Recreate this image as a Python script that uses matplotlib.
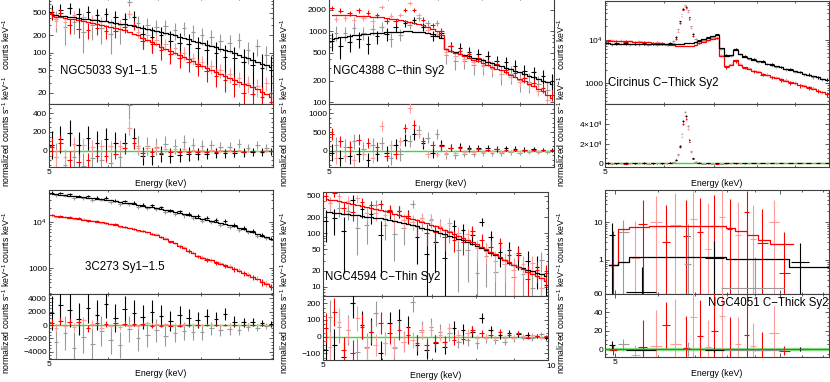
import numpy as np
import matplotlib
matplotlib.use("Agg")
import matplotlib.pyplot as plt
from matplotlib.ticker import FixedLocator, NullFormatter, LogLocator, AutoMinorLocator

plt.rcParams['font.family'] = ['Liberation Sans', 'DejaVu Sans']
plt.rcParams['mathtext.fontset'] = 'custom'
plt.rcParams['mathtext.rm'] = 'Liberation Sans'
plt.rcParams['mathtext.it'] = 'Liberation Sans:italic'

# ---------------- data ----------------
energy_keV = [5.04, 5.11, 5.18, 5.25, 5.33, 5.40, 5.48, 5.56, 5.64, 5.72,
              5.80, 5.88, 5.97, 6.05, 6.14, 6.23, 6.32, 6.41, 6.50, 6.59,
              6.68, 6.78, 6.88, 6.97, 7.07, 7.17, 7.28, 7.38, 7.49, 7.59,
              7.70, 7.81, 7.92, 8.03, 8.15, 8.26, 8.38, 8.50, 8.62, 8.75,
              8.87, 9.00, 9.13, 9.26, 9.39, 9.53, 9.66, 9.80, 9.94]

# NGC5033
n5033_blk_model = [455, 447, 438, 430, 421, 412, 403, 393, 383, 375,
                   368, 361, 354, 346, 335, 323, 311, 300, 289, 278,
                   268, 257, 247, 238, 229, 220, 210, 200, 190, 181,
                   172, 163, 154, 146, 139, 132, 125, 118, 112, 106,
                   99, 92, 86, 80, 75, 70, 65, 60, 56]
n5033_blk_resid = [65, -67, 122, -150, 189, -62, 67, -160, 137, -75,
                   82, -91, 126, -130, 85, -63, 79, 480, 131, 52,
                   -58, 53, -57, 42, -29, 70, -50, 50, -40, 89,
                   -32, 67, -34, 54, -29, 58, -25, 42, -27, 44,
                   -19, 78, -16, 30, -15, 60, -10, 30, -6]
n5033_blk_err = [150, 150, 145, 145, 140, 140, 135, 135, 130, 130,
                 125, 125, 120, 120, 115, 115, 110, 140, 110, 100,
                 95, 95, 90, 90, 85, 85, 80, 80, 75, 75,
                 70, 70, 65, 65, 60, 60, 55, 55, 50, 50,
                 48, 48, 45, 45, 42, 42, 40, 40, 38]
n5033_red_model = [435, 425, 414, 403, 391, 382, 372, 360, 347, 334,
                   321, 308, 295, 283, 270, 257, 246, 234, 216, 200,
                   184, 169, 154, 140, 128, 118, 109, 100, 92, 85,
                   78, 71, 65, 59, 55, 51, 47, 43, 40, 37,
                   34, 31, 29, 27, 25, 23, 21, 19, 17]
n5033_red_resid = [45, -65, 86, -63, -91, 68, -112, 60, -97, 46,
                   -51, 52, -55, 47, -30, 53, 34, 246, 84, 30,
                   -24, 31, -14, 30, -18, 22, -14, 20, -12, 15,
                   -10, 9, -7, 11, -7, 7, -7, 7, -6, 5,
                   -6, 5, -9, 3, -6, 3, -4, 11, -3]
n5033_red_err = [90, 90, 85, 85, 85, 80, 80, 75, 75, 70,
                 70, 65, 65, 60, 60, 58, 56, 80, 54, 50,
                 46, 44, 40, 38, 35, 33, 30, 28, 26, 24,
                 22, 20, 19, 18, 17, 16, 15, 14, 13, 12,
                 11, 11, 10, 10, 9, 9, 8, 8, 8]

# NGC4388
n4388_blk_model = [790, 805, 820, 840, 860, 875, 890, 905, 920, 935,
                   945, 955, 965, 975, 985, 990, 995, 995, 990, 980,
                   965, 945, 915, 870, 800, 560, 530, 505, 485, 465,
                   445, 425, 405, 390, 372, 355, 338, 322, 306, 291,
                   276, 262, 248, 235, 223, 211, 200, 190, 180]
n4388_blk_resid = [-50, 150, -200, 100, -150, 250, -100, 50, -250, 150,
                   -100, 200, -50, -200, 150, -100, 300, 250, 450, 550,
                   200, 350, -50, 450, 150, -100, 80, -120, 100, -80,
                   60, -90, 70, -60, 80, -50, 40, -70, 60, -40,
                   50, -60, 30, -40, 40, -30, 30, -40, 20]
n4388_blk_err = [220, 220, 210, 210, 200, 200, 200, 190, 190, 190,
                 180, 180, 180, 170, 170, 170, 160, 160, 160, 150,
                 150, 150, 140, 140, 140, 110, 100, 100, 95, 95,
                 90, 90, 85, 85, 80, 80, 75, 75, 70, 70,
                 65, 65, 60, 60, 55, 55, 50, 50, 50]
n4388_red_model = [1700, 1700, 1700, 1695, 1690, 1680, 1670, 1650, 1630, 1610,
                   1590, 1565, 1540, 1510, 1480, 1445, 1410, 1370, 1320, 1270,
                   1210, 1150, 1080, 1000, 900, 570, 530, 500, 470, 445,
                   420, 395, 375, 355, 335, 315, 297, 280, 262, 245,
                   228, 212, 197, 182, 168, 155, 142, 128, 115]
n4388_red_resid = [450, -200, 250, -150, 100, -250, 300, -100, 200, -200,
                   100, 650, -150, 150, -100, 250, 600, 1150, 700, 450,
                   250, -100, 150, -80, 120, -60, 80, -50, 60, -40,
                   50, -30, 40, -30, 30, -20, 50, -30, 20, -20,
                   30, -20, 20, -10, 20, -10, 15, -20, 10]
n4388_red_err = [160, 160, 155, 155, 150, 150, 145, 145, 140, 140,
                 135, 135, 130, 130, 125, 125, 120, 140, 120, 115,
                 110, 105, 100, 95, 90, 70, 65, 60, 58, 55,
                 52, 50, 48, 46, 44, 42, 40, 38, 36, 34,
                 32, 30, 28, 26, 25, 24, 23, 22, 21]

# Circinus (finer bins around the Fe K-alpha line)
circ_energy = [5.04, 5.11, 5.18, 5.25, 5.33, 5.40, 5.48, 5.56, 5.64, 5.72,
               5.80, 5.88, 5.97, 6.05, 6.12, 6.18, 6.23, 6.27, 6.31, 6.34,
               6.37, 6.40, 6.43, 6.46, 6.49, 6.53, 6.57, 6.62, 6.68, 6.78,
               6.88, 6.97, 7.07, 7.17, 7.28, 7.38, 7.49, 7.59, 7.70, 7.81,
               7.92, 8.03, 8.15, 8.26, 8.38, 8.50, 8.62, 8.75, 8.87, 9.00,
               9.13, 9.26, 9.39, 9.53, 9.66, 9.80, 9.94]
circ_blk_model = [8200, 8100, 8150, 8050, 8000, 8000, 7950, 7900, 7900, 7850,
                  7800, 7800, 7800, 7850, 7900, 7950, 8000, 8050, 8100, 8120,
                  8150, 8200, 8230, 8260, 8300, 8400, 8500, 8800, 9200, 10200,
                  11000, 12000, 12800, 6500, 4300, 4500, 5800, 4800, 4100, 3800,
                  3500, 3250, 3050, 2850, 2650, 2480, 2320, 2170, 2030, 1900,
                  1780, 1660, 1560, 1460, 1370, 1280, 1200]
circ_blk_resid = [200, -300, 150, -100, 250, -200, 100, -150, 300, -250,
                  100, -100, 200, -200, 400, 1200, 3500, 9000, 18000, 30000,
                  43000, 52000, 48000, 38000, 24000, 12000, 5000, 1500, 400, -300,
                  200, -400, 300, -300, 200, -200, 300, -200, 150, -150,
                  100, -120, 150, -100, 80, -100, 60, -80, 100, -60,
                  50, -50, 40, -60, 30, -40, 20]
circ_blk_err = [600, 600, 580, 580, 560, 560, 540, 540, 520, 520,
                500, 500, 480, 480, 480, 500, 520, 560, 620, 700,
                780, 820, 800, 740, 660, 560, 480, 440, 420, 400,
                400, 420, 440, 330, 250, 260, 290, 250, 220, 210,
                200, 190, 180, 175, 170, 160, 155, 150, 145, 140,
                135, 130, 125, 120, 115, 110, 105]
circ_red_model = [9600, 9500, 9400, 9300, 9200, 9100, 9000, 8900, 8800, 8700,
                  8550, 8400, 8200, 7900, 7650, 7450, 7300, 7200, 7120, 7060,
                  7020, 7000, 7010, 7040, 7080, 7150, 7300, 7700, 8200, 9000,
                  9800, 10500, 11000, 4200, 2500, 2700, 3400, 2700, 2350, 2150,
                  1950, 1800, 1660, 1540, 1430, 1330, 1240, 1150, 1070, 1000,
                  930, 870, 810, 750, 690, 630, 570]
circ_red_resid = [-200, 300, -150, 200, -250, 150, -100, 250, -200, 100,
                  -150, 200, -100, 150, 300, 1000, 3000, 8000, 16500, 27000,
                  40000, 48500, 45000, 35000, 22000, 11000, 4500, 1200, 300, 250,
                  -200, 300, -250, 150, -150, 100, -200, 120, -100, 80,
                  -60, 100, -80, 60, -50, 70, -40, 50, -30, 40,
                  -30, 30, -20, 25, -20, 15, -10]
circ_red_err = [650, 640, 630, 620, 610, 600, 590, 580, 570, 560,
                550, 540, 530, 520, 500, 500, 520, 560, 620, 700,
                760, 800, 780, 720, 640, 540, 460, 420, 400, 400,
                420, 440, 460, 260, 170, 180, 210, 180, 160, 150,
                140, 135, 130, 125, 120, 115, 110, 105, 100, 95,
                92, 88, 85, 82, 78, 74, 70]

# 3C273
c273_blk_model = [40200, 39300, 38400, 37500, 36500, 35600, 34700, 33800, 32900, 32100,
                  31200, 30400, 29500, 28600, 27500, 26600, 25600, 24700, 23800, 23000,
                  22100, 21200, 20400, 19600, 18800, 17800, 16900, 16100, 15200, 14500,
                  13700, 13000, 12300, 11600, 11000, 10500, 9900, 9400, 8900, 8400,
                  7900, 7450, 6900, 6400, 5900, 5400, 5000, 4600, 4200]
c273_blk_resid = [1800, -2500, 3000, -1200, 2200, -3500, 900, -1800, 2600, -2800,
                  1500, -900, 3200, -2200, 1000, -3000, 2400, -600, 1800, -2000,
                  1200, -1500, 2000, -800, 1400, -1700, 600, -1200, 1500, -900,
                  1100, -1000, 800, -1100, 1300, -500, 900, -700, 1600, -600,
                  500, -800, 400, -300, 500, -400, 300, -200, 150]
c273_blk_err = [2600, 2600, 2500, 2500, 2500, 2400, 2400, 2400, 2300, 2300,
                2300, 2200, 2200, 2100, 2100, 2000, 2000, 2000, 1900, 1900,
                1800, 1800, 1700, 1700, 1600, 1500, 1500, 1400, 1400, 1300,
                1300, 1200, 1200, 1100, 1100, 1000, 1000, 900, 900, 850,
                800, 750, 700, 650, 600, 550, 500, 450, 400]
c273_red_model = [13700, 13300, 12900, 12600, 12100, 11800, 11400, 11000, 10700, 10400,
                  10000, 9700, 9300, 8950, 8500, 8070, 7670, 7280, 6920, 6560,
                  6240, 5890, 5560, 5270, 4800, 4300, 3810, 3410, 3030, 2710,
                  2400, 2130, 1870, 1700, 1570, 1470, 1350, 1250, 1160, 1070,
                  985, 890, 800, 720, 650, 580, 515, 465, 415]
c273_red_resid = [300, -400, 600, -200, 500, -300, 400, 700, -500, 200,
                  300, -400, 150, -200, 300, -300, 200, -100, 150, -200,
                  100, 250, -150, 100, -100, 80, -120, 60, -80, 100,
                  -60, 50, -70, 40, -50, 60, -30, 40, -40, 30,
                  -30, 20, -20, 25, -15, 20, -15, 10, -10]
c273_red_err = [600, 600, 580, 560, 550, 540, 520, 500, 490, 480,
                460, 450, 440, 420, 400, 390, 380, 360, 350, 340,
                320, 300, 290, 280, 260, 250, 240, 220, 210, 200,
                190, 180, 170, 160, 150, 140, 130, 125, 120, 110,
                105, 100, 95, 90, 85, 80, 75, 70, 65]

# NGC4594
n4594_blk_model = [247, 243, 238, 233, 228, 223, 218, 214, 209, 204,
                   200, 195, 191, 184, 176, 168, 161, 154, 147, 140,
                   134, 127, 121, 116, 109, 102, 95, 89, 83, 78,
                   73, 68, 63, 58, 53, 48, 43, 39, 35, 31,
                   28, 25, 23.5, 22.1, 20.7, 19.4, 18.2, 17.0, 15.9]
n4594_blk_resid = [-80, 120, -50, 60, -120, 40, 200, -90, 70, -60,
                   30, 140, -100, -40, 80, -70, 100, -30, 60, 210,
                   -50, 40, -80, 60, -40, 30, -60, 20, 50, -30,
                   40, -20, 30, -40, 110, -10, 40, -20, 10, -30,
                   20, -10, 15, -5, 10, -10, 5, 15, -5]
n4594_blk_err = [100, 100, 95, 95, 90, 90, 90, 85, 85, 80,
                 80, 75, 75, 70, 70, 68, 66, 64, 62, 60,
                 58, 56, 54, 52, 50, 48, 46, 44, 42, 40,
                 38, 36, 34, 32, 30, 28, 26, 24, 22, 21,
                 20, 19, 18, 17, 16, 15, 14, 13, 12]
n4594_red_model = [437, 422, 407, 394, 378, 365, 350, 336, 323, 310,
                   298, 286, 274, 261, 247, 232, 219, 207, 195, 184,
                   173, 163, 152, 144, 133, 123, 113, 105, 96, 89,
                   82, 75, 69, 63, 56, 51, 45, 40, 36, 32,
                   29, 25.4, 23.1, 21.1, 19.2, 17.3, 15.8, 14.3, 12.9]
n4594_red_resid = [50, -60, 150, 90, -80, 40, -100, 110, 60, -70,
                   30, -50, 80, -40, 20, -60, 40, -30, 10, -20,
                   -40, 30, -50, 40, -30, 10, -30, 50, -20, 10,
                   -15, 20, 40, -10, 20, -5, 10, -10, 30, -5,
                   10, -5, 20, 5, -5, 10, 5, -5, 5]
n4594_red_err = [90, 90, 85, 85, 80, 80, 78, 76, 74, 72,
                 70, 68, 66, 64, 62, 60, 58, 55, 52, 50,
                 48, 46, 44, 42, 40, 38, 36, 34, 32, 30,
                 28, 26, 24, 22, 20, 19, 18, 17, 16, 15,
                 14, 13, 12, 11, 10, 10, 9, 9, 8]

# NGC4051 (sparse bins)
n4051_red_e = [4.97, 5.45, 5.62, 5.95, 6.20, 6.45, 6.75, 6.95, 7.15, 7.40,
               7.60, 7.85, 8.10, 8.40, 8.70, 8.95, 9.30, 9.75, 10.20]
n4051_red_hw = [0.08, 0.10, 0.10, 0.15, 0.10, 0.15, 0.10, 0.10, 0.10, 0.10,
                0.10, 0.10, 0.10, 0.10, 0.10, 0.12, 0.20, 0.20, 0.25]
n4051_red_val = [0.75, 1.1, 9.0, 10.4, 3.0, 8.5, 4.4, 12, 5.5, 2.0,
                 8.0, 14, 6.5, 4.5, 19, 3.5, 2.9, 10, 0.45]
n4051_red_err = [5, 10, 30, 40, 25, 50, 35, 55, 40, 30,
                 45, 60, 35, 30, 50, 25, 20, 30, 5]
n4051_red_res = [-1, -6, 2, 3, 26, 5, 1, 35, 14, 2,
                 20, 36, 0, 5, 15, 3, -1, 17, -2]
n4051_blk_e = [4.95, 5.18, 5.60, 6.80, 7.60, 9.00, 10.90]
n4051_blk_hw = [0.06, 0.12, 0.35, 0.10, 0.30, 1.20, 0.40]
n4051_blk_val = [4.6, 5.6, 0.14, 0.8, 1.1, 0.18, 0.9]
n4051_blk_err = [5, 6, 0.5, 8, 2, 1, 2]
n4051_blk_res = [4, 5, -1, 0, -1, -1, 0]
n4051_red_model_edges = [4.89, 5.06, 5.30, 5.77, 7.99, 8.29, 8.73, 9.14, 9.58, 10.56]
n4051_red_model_vals = [0.75, 6.5, 7.4, 8.1, 7.2, 6.0, 4.5, 3.4, 2.6]
n4051_blk_model_edges = [4.89, 5.06, 5.30, 7.99, 10.39, 12.3]
n4051_blk_model_vals = [0.74, 0.87, 1.22, 1.06, 0.66]

panel_names = ["NGC5033 Sy1\u22121.5", "NGC4388 C\u2212thin Sy2", "Circinus C\u2212Thick Sy2",
               "3C273 Sy1\u22121.5", "NGC4594 C\u2212Thin Sy2", "NGC4051 C\u2212Thick Sy2"]

# ---------------- figure ----------------
W, H = 830, 382
fig = plt.figure(figsize=(W / 100, H / 100), dpi=100)
fig.patch.set_facecolor('white')

BLK, BLK_L = '#000000', '#9a9a9a'
RED, RED_L = '#ff0000', '#ff9a9a'
GREEN = '#33dd33'
FRAME = '#404040'


def rect(x0, x1, y0, y1):
    return [x0 / W, 1 - y1 / H, (x1 - x0) / W, (y1 - y0) / H]


def make_pair(x0, x1, ytop, ysep, ybot):
    at = fig.add_axes(rect(x0, x1, ytop, ysep))
    ar = fig.add_axes(rect(x0, x1, ysep, ybot))
    return at, ar


def style(ax, xlim, xmaj, xlab, xmin, show_xlabels):
    ax.set_xscale('log')
    ax.set_xlim(*xlim)
    ax.xaxis.set_major_locator(FixedLocator(xmaj))
    ax.set_xticklabels(xlab if show_xlabels else [''] * len(xmaj))
    ax.xaxis.set_minor_locator(FixedLocator(xmin))
    ax.xaxis.set_minor_formatter(NullFormatter())
    ax.tick_params(which='both', direction='in', top=True, right=True,
                   labelsize=6, pad=1.5, color=FRAME, width=0.6)
    ax.tick_params(which='major', length=3)
    ax.tick_params(which='minor', length=1.6)
    for s in ax.spines.values():
        s.set_color(FRAME)
        s.set_linewidth(0.8)


def half_widths(e):
    e = np.asarray(e, float)
    le = np.log(e)
    d = np.diff(le) / 2
    left = np.concatenate([[d[0]], d])
    right = np.concatenate([d, [d[-1]]])
    return e - np.exp(le - left), np.exp(le + right) - e


def draw_series(at, ar, e, model, resid, err, dark, light, z):
    e = np.asarray(e, float)
    model = np.asarray(model, float)
    resid = np.asarray(resid, float)
    err = np.asarray(err, float)
    data = model + resid
    xlo, xhi = half_widths(e)
    for sel, col in ((slice(1, None, 2), light), (slice(0, None, 2), dark)):
        at.errorbar(e[sel], data[sel], yerr=err[sel], xerr=[xlo[sel], xhi[sel]],
                    fmt='none', ecolor=col, elinewidth=0.8, capsize=0, zorder=z)
        ar.errorbar(e[sel], resid[sel], yerr=err[sel], xerr=[xlo[sel], xhi[sel]],
                    fmt='none', ecolor=col, elinewidth=0.8, capsize=0, zorder=z)
    at.plot(e, model, drawstyle='steps-mid', color=dark, lw=0.9, zorder=z + 2)


def finish(at, ar, xlim, xmaj, xlab, xmin, ylim_t, yt, ytl, ylim_r, yr, yrl):
    style(at, xlim, xmaj, xlab, xmin, False)
    style(ar, xlim, xmaj, xlab, xmin, True)
    at.set_yscale('log')
    at.set_ylim(*ylim_t)
    at.set_yticks(yt, ytl)
    at.yaxis.set_minor_locator(LogLocator(base=10, subs=np.arange(1, 10) * 1.0, numticks=60))
    at.yaxis.set_minor_formatter(NullFormatter())
    ar.set_ylim(*ylim_r)
    ar.set_yticks(yr, yrl)
    ar.yaxis.set_minor_locator(AutoMinorLocator(4))
    ar.axhline(0, color=GREEN, lw=1.0, zorder=1)


X510 = (5, 10)
XMAJ = [5, 10]
XMIN = [6, 7, 8, 9]

# Panel 1: NGC5033
at, ar = make_pair(49, 273, -2, 104, 167)
draw_series(at, ar, energy_keV, n5033_blk_model, n5033_blk_resid, n5033_blk_err, BLK, BLK_L, 3)
draw_series(at, ar, energy_keV, n5033_red_model, n5033_red_resid, n5033_red_err, RED, RED_L, 4)
finish(at, ar, X510, XMAJ, ['5', ''], XMIN, (12.8, 900), [20, 50, 100, 200, 500],
       ['20', '50', '100', '200', '500'], (-170, 495), [0, 200, 400], ['0', '200', '400'])

# Panel 2: NGC4388
at, ar = make_pair(329, 554, -2, 104, 167)
draw_series(at, ar, energy_keV, n4388_blk_model, n4388_blk_resid, n4388_blk_err, BLK, BLK_L, 3)
draw_series(at, ar, energy_keV, n4388_red_model, n4388_red_resid, n4388_red_err, RED, RED_L, 4)
finish(at, ar, X510, XMAJ, ['5', ''], XMIN, (94, 2950), [100, 200, 500, 1000, 2000],
       ['100', '200', '500', '1000', '2000'], (-435, 1250), [0, 500, 1000], ['0', '500', '1000'])

# Panel 3: Circinus
at, ar = make_pair(605, 829, 0.5, 104, 167)
draw_series(at, ar, circ_energy, circ_red_model, circ_red_resid, circ_red_err, RED, RED_L, 3)
draw_series(at, ar, circ_energy, circ_blk_model, circ_blk_resid, circ_blk_err, BLK, BLK_L, 4)
finish(at, ar, X510, XMAJ, ['5', ''], XMIN, (340, 78000), [1000, 10000], ['1000', '$10^4$'],
       (-3800, 60300), [0, 20000, 40000], ['0', r'$2{\times}10^4$', r'$4{\times}10^4$'])

# Panel 4: 3C273
at, ar = make_pair(49, 273, 190, 294, 359)
draw_series(at, ar, energy_keV, c273_blk_model, c273_blk_resid, c273_blk_err, BLK, BLK_L, 3)
draw_series(at, ar, energy_keV, c273_red_model, c273_red_resid, c273_red_err, RED, RED_L, 4)
finish(at, ar, X510, XMAJ, ['5', ''], XMIN, (280, 48000), [1000, 10000], ['1000', '$10^4$'],
       (-5100, 4650), [-4000, -2000, 0, 2000, 4000],
       ['\u22124000', '\u22122000', '0', '2000', '4000'])

# Panel 5: NGC4594
at, ar = make_pair(323, 548, 192, 296, 360)
draw_series(at, ar, energy_keV, n4594_blk_model, n4594_blk_resid, n4594_blk_err, BLK, BLK_L, 3)
draw_series(at, ar, energy_keV, n4594_red_model, n4594_red_resid, n4594_red_err, RED, RED_L, 4)
finish(at, ar, X510, XMAJ, ['5', ''], XMIN, (6.7, 586), [10, 20, 50, 100, 200, 500],
       ['10', '20', '50', '100', '200', '500'], (-140, 244), [-100, 0, 100, 200],
       ['\u2212100', '0', '100', '200'])

# Panel 6: NGC4051
at, ar = make_pair(605, 829, 190, 294, 357)
re = np.asarray(n4051_red_e)
rhw = np.asarray(n4051_red_hw)
for sel, col in ((slice(1, None, 2), RED_L), (slice(0, None, 2), RED)):
    at.errorbar(re[sel], np.asarray(n4051_red_val)[sel], yerr=np.asarray(n4051_red_err)[sel],
                xerr=rhw[sel], fmt='none', ecolor=col, elinewidth=0.8, capsize=0, zorder=3)
    ar.errorbar(re[sel], np.asarray(n4051_red_res)[sel], yerr=np.asarray(n4051_red_err)[sel],
                xerr=rhw[sel], fmt='none', ecolor=col, elinewidth=0.8, capsize=0, zorder=3)
be = np.asarray(n4051_blk_e)
bhw = np.asarray(n4051_blk_hw)
for sel, col in ((slice(1, None, 2), BLK_L), (slice(0, None, 2), BLK)):
    at.errorbar(be[sel], np.asarray(n4051_blk_val)[sel], yerr=np.asarray(n4051_blk_err)[sel],
                xerr=bhw[sel], fmt='none', ecolor=col, elinewidth=0.8, capsize=0, zorder=4)
    ar.errorbar(be[sel], np.asarray(n4051_blk_res)[sel], yerr=np.asarray(n4051_blk_err)[sel],
                xerr=bhw[sel], fmt='none', ecolor=col, elinewidth=0.8, capsize=0, zorder=4)
at.step(n4051_red_model_edges, n4051_red_model_vals + [n4051_red_model_vals[-1]],
        where='post', color=RED, lw=0.9, zorder=5)
at.step(n4051_blk_model_edges, n4051_blk_model_vals + [n4051_blk_model_vals[-1]],
        where='post', color=BLK, lw=0.9, zorder=5)
finish(at, ar, (4.8, 12.3), XMAJ, ['5', ''], [6, 7, 8, 9, 11, 12], (0.125, 72), [1, 10], ['1', '10'],
       (-8.7, 60), [0, 20, 40, 60], ['0', '20', '40', '60'])
ar.axhline(0, color='#aaf0aa', lw=2.5, zorder=0.5)
ar.axhline(0, color='#1f9a1f', lw=0.9, zorder=6)

# ---------------- texts ----------------
def ftext(x, y, s, **kw):
    fig.text(x / W, 1 - y / H, s, **kw)


# "10" tick label of the NGC4594 panel (sits just right of the axis end)
ftext(551, 366, '10', fontsize=6, ha='center', va='center')

name_pos = [(60, 71, 'left'), (333, 71, 'left'), (608, 83, 'left'),
            (85, 267, 'left'), (325, 277, 'left'), (828, 303, 'right')]
for (x, y, ha), name in zip(name_pos, panel_names):
    ftext(x, y, name, fontsize=8.3, ha=ha, va='center', zorder=10)

for xc, y in [(161, 183), (441, 183), (717, 183), (161, 373), (436, 376), (717, 373)]:
    ftext(xc, y, 'Energy (keV)', fontsize=6.3, ha='center', va='center')

for x in (6, 284, 561):
    for yc, yn in ((44, 131), (237, 318)):
        ftext(x, yc, 'counts keV$^{-1}$', fontsize=6.3, rotation=90, ha='center', va='center')
        ftext(x, yn, 'normalized counts s$^{-1}$ keV$^{-1}$', fontsize=6.3, rotation=90,
              ha='center', va='center')

fig.savefig('out.png', dpi=100)
